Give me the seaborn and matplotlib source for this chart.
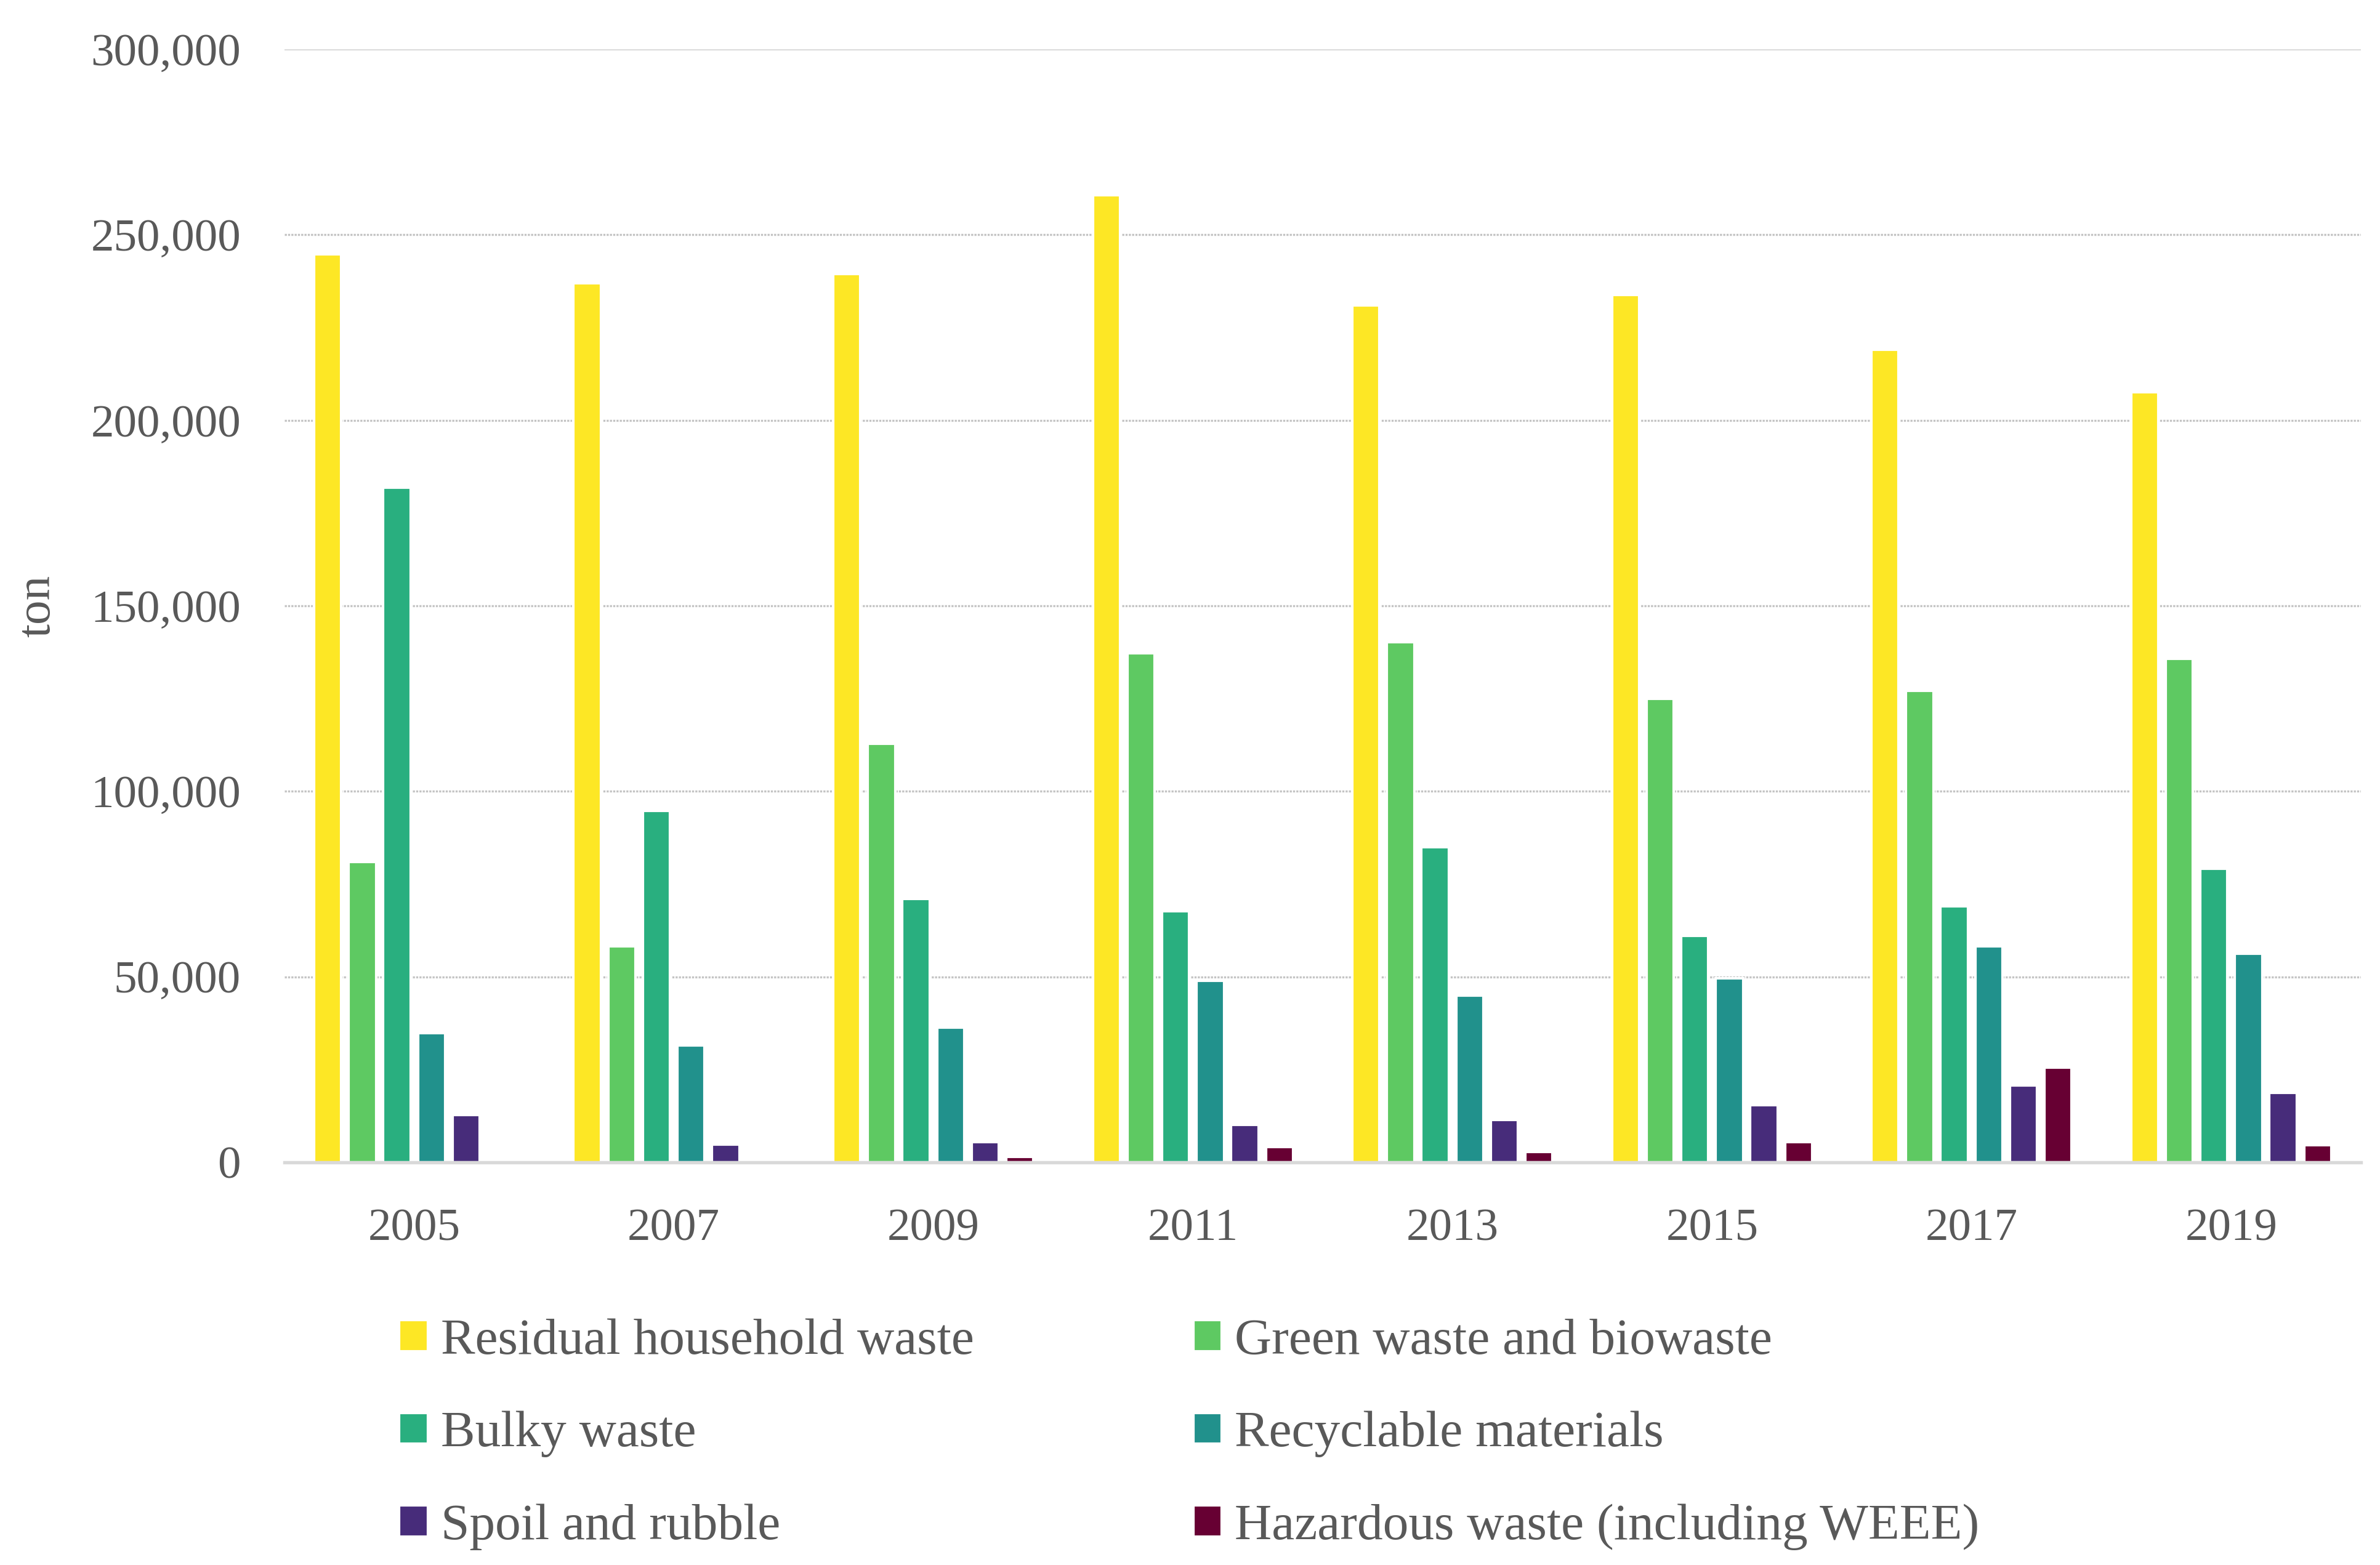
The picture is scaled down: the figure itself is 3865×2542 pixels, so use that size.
import pandas as pd
import seaborn as sns
import matplotlib.pyplot as plt
from matplotlib.ticker import FuncFormatter

# values (tons)
years = ['2005', '2007', '2009', '2011', '2013', '2015', '2017', '2019']
residual = [244800, 237000, 239500, 260700, 230900, 233800, 219000, 207600]
green = [80900, 58300, 112800, 137300, 140200, 125000, 127100, 135700]
bulky = [181900, 94800, 71000, 67700, 85000, 61000, 69000, 79100]
recyclable = [34900, 31500, 36300, 48900, 44900, 49600, 58300, 56300]
spoil = [12800, 4800, 5400, 10100, 11500, 15500, 20800, 18800]
hazardous = [0, 0, 1470, 4100, 2750, 5400, 25500, 4700]

categories = ['Residual household waste', 'Green waste and biowaste', 'Bulky waste',
              'Recyclable materials', 'Spoil and rubble', 'Hazardous waste (including WEEE)']
colors = ['#fde725', '#5ec962', '#29af7f', '#21918c', '#472c7a', '#670033']

series = [residual, green, bulky, recyclable, spoil, hazardous]
rows = []
for cat, vals in zip(categories, series):
    for yr, v in zip(years, vals):
        rows.append({'year': yr, 'category': cat, 'ton': v})
df = pd.DataFrame(rows)

sns.set_style('white')
plt.rcParams['font.family'] = ['Liberation Serif', 'DejaVu Serif']
txt = '#595959'

fig = plt.figure(figsize=(3865 / 300, 2542 / 300), dpi=300)
ax = fig.add_axes([0.1195, 0.2573, 0.8725, 0.7112])

sns.barplot(data=df, x='year', y='ton', hue='category', hue_order=categories,
            palette=colors, saturation=1, width=0.8, gap=0.21, ax=ax, legend=True)

ax.set_xlim(-0.5, 7.5)
ax.set_ylim(0, 300000)
ax.set_yticks(range(0, 300001, 50000))
ax.yaxis.set_major_formatter(FuncFormatter(lambda v, p: f'{v:,.0f}'))

# gridlines
for v in range(50000, 300000, 50000):
    ax.axhline(v, color='#c4c4c4', lw=0.8, ls=(0, (1, 0.6)), zorder=0)
ax.axhline(300000, color='#d9d9d9', lw=0.9, zorder=0)

for s in ['top', 'right', 'left']:
    ax.spines[s].set_visible(False)
ax.spines['bottom'].set_color('#d9d9d9')
ax.spines['bottom'].set_linewidth(1.3)

ax.tick_params(axis='both', length=0, labelsize=18, labelcolor=txt)
ax.tick_params(axis='y', pad=17)
ax.tick_params(axis='x', pad=18)
ax.set_xlabel('')
ax.set_ylabel('ton', fontsize=19, color=txt, labelpad=12)

handles, labels = ax.get_legend_handles_labels()
ax.get_legend().remove()
order = [0, 2, 4, 1, 3, 5]
fig.legend([handles[i] for i in order], [labels[i] for i in order],
           loc='upper left', bbox_to_anchor=(0.157, 0.174), ncol=2,
           frameon=False, fontsize=20, labelcolor=txt, borderpad=0,
           handlelength=0.56, handleheight=0.56, handletextpad=0.25,
           labelspacing=0.9, columnspacing=4.27)

fig.savefig('out.png', dpi=300)
